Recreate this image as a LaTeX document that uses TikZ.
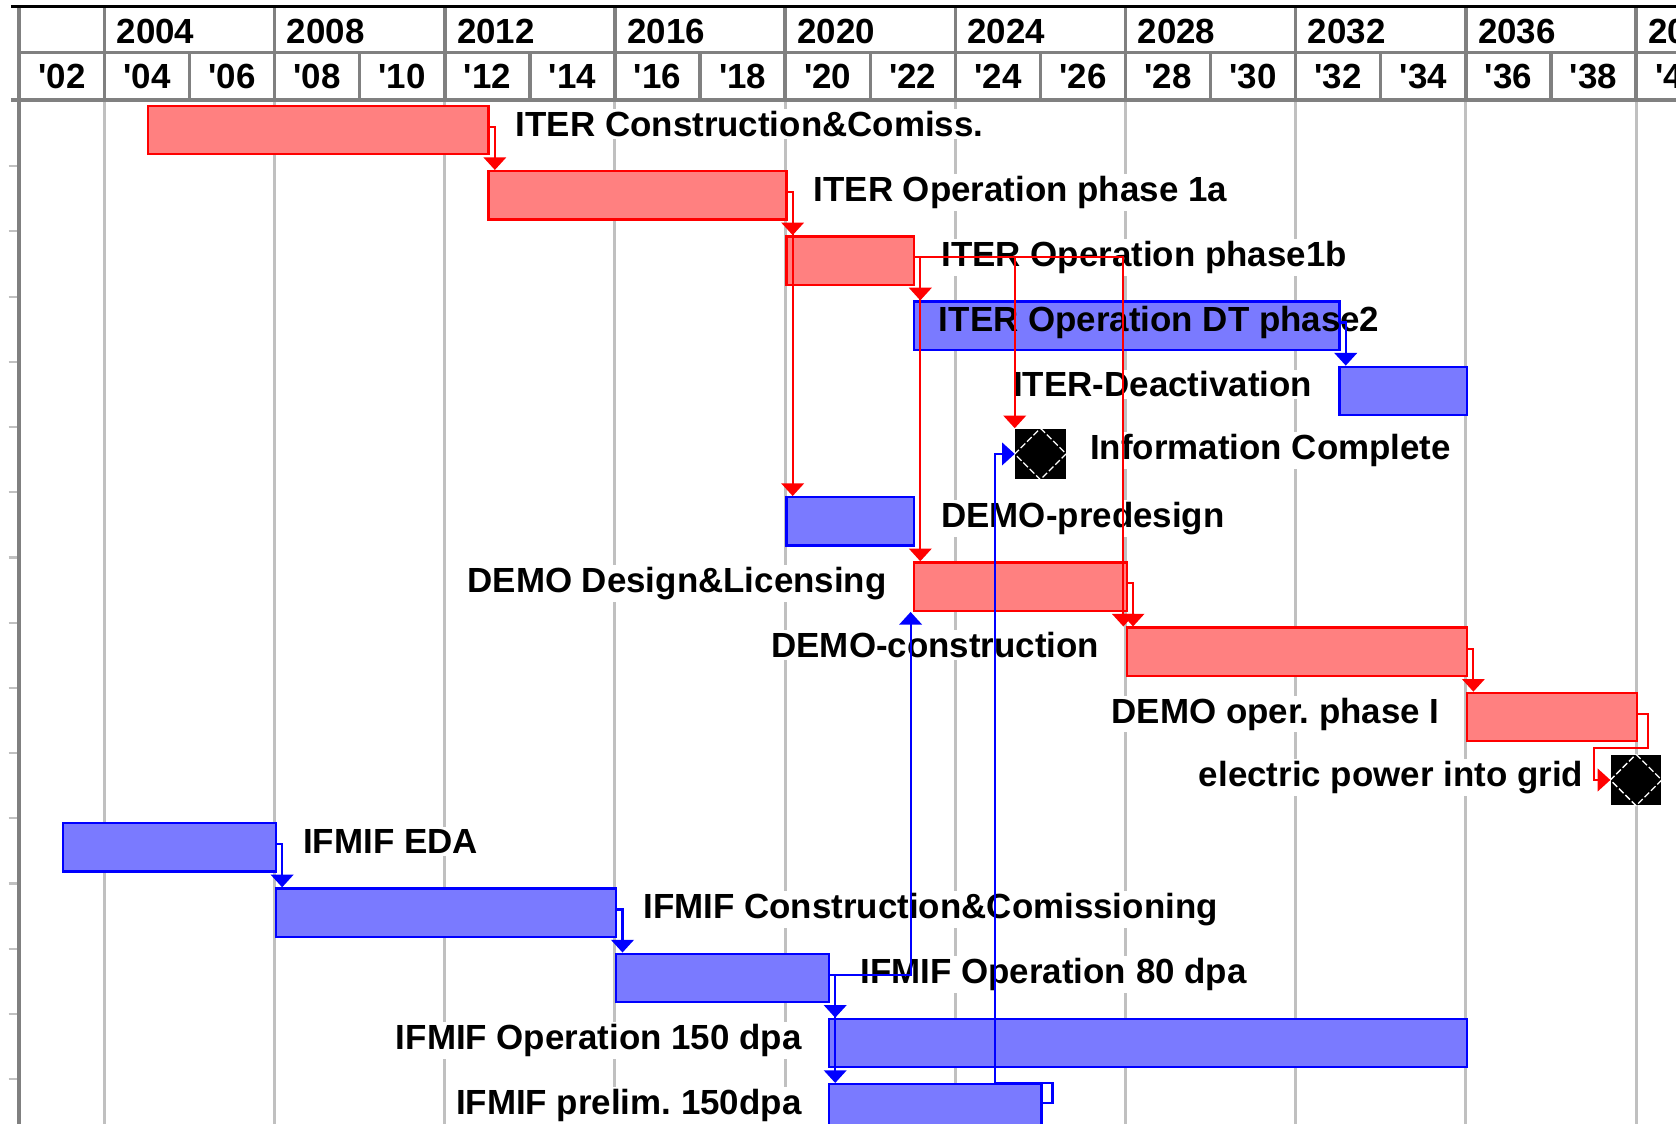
\documentclass[tikz,border=0pt]{standalone}
\usepackage{fontspec}
\newfontfamily\labfont{Liberation Sans}
\usetikzlibrary{arrows.meta}
\definecolor{rfill}{RGB}{255,128,128}
\definecolor{bfill}{RGB}{122,122,255}
\definecolor{hdrgray}{RGB}{128,128,128}
\definecolor{gridgray}{RGB}{192,192,192}
\frenchspacing
\begin{document}
\begin{tikzpicture}[x=19.8pt, y=-0.5pt,
  lab/.style={font=\labfont\bfseries\fontsize{16.25pt}{19pt}\selectfont, inner sep=1pt, fill=white},
  lablong/.style={font=\labfont\bfseries\fontsize{16.25pt}{19pt}\selectfont, inner sep=1pt},
  hdr/.style={font=\labfont\bfseries\fontsize{16.25pt}{19pt}\selectfont, inner sep=0pt},
  hdrline/.style={draw=hdrgray, line width=1.6pt},
  gridline/.style={draw=gridgray, line width=1.4pt},
  barbase/.style={line width=1.1pt, inner sep=0pt, minimum height=22.5pt, anchor=north west},
  redbar/.style={barbase, draw=red, fill=rfill},
  bluebar/.style={barbase, draw=blue, fill=bfill},
  yrs/.style={minimum width=#1*19.8pt},
  mile/.style={fill=black, minimum size=23.5pt, inner sep=0pt},
  milediamond/.style={draw=white, line width=0.6pt, dash pattern=on 3pt off 1.2pt},
  redc/.style={draw=red, line width=1pt, -{Triangle[width=10.5pt,length=5.9pt]}},
  bluec/.style={draw=blue, line width=1pt, -{Triangle[width=10.5pt,length=5.9pt]}}
]
\useasboundingbox (-9pt,0pt) rectangle (771pt,-522.65pt);
\clip (-9pt,0pt) rectangle (771pt,-522.65pt);

% body grid
\foreach \xx in {2,6,...,38} { \draw[gridline] (\xx,93) -- (\xx,1050); }
\foreach \k in {1,...,15} { \draw[gridgray, line width=1pt] (-0.25,{94+60.7*\k}) -- (0,{94+60.7*\k}); }

% header
\draw[hdrline] (0,49) -- (41,49);
\draw[hdrline] (-0.2,93) -- (41,93);
\foreach \xx in {2,6,...,38} { \draw[hdrline] (\xx,6) -- (\xx,49); }
\foreach \xx in {2,4,...,40} { \draw[hdrline] (\xx,49) -- (\xx,93); }
\draw[draw=hdrgray, line width=1.8pt] (0,6) -- (0,1050);
\draw[black, line width=1.8pt] (-0.2,6) -- (41,6);
\foreach \yr in {2004,2008,...,2040} {
  \pgfmathsetmacro\xx{\yr-2002}
  \node[hdr, anchor=base west] (h\yr) at ([xshift=5.5pt]\xx,40.5) {\yr};
}
\foreach \xx/\t in {1/02,3/04,5/06,7/08,9/10,11/12,13/14,15/16,17/18,19/20,21/22,23/24,25/26,27/28,29/30,31/32,33/34,35/36,37/38,39/40} {
  \node[hdr, anchor=base] (s\xx) at (\xx,82) {'\t};
}

% bars
\node[redbar, yrs=8] (b1) at (3,97.5) {};
\node[redbar, yrs=7] (b2) at (11,158.2) {};
\node[redbar, yrs=3] (b3) at (18,218.9) {};
\node[bluebar, yrs=10] (b4) at (21,279.6) {};
\node[bluebar, yrs=3] (b5) at (31,340.3) {};
\node[mile] (m1) at (24,422.5) {};
\draw[milediamond] (m1.north) -- (m1.east) -- (m1.south) -- (m1.west) -- cycle;
\node[bluebar, yrs=3] (b7) at (18,461.7) {};
\node[redbar, yrs=5] (b8) at (21,522.4) {};
\node[redbar, yrs=8] (b9) at (26,583.1) {};
\node[redbar, yrs=4] (b10) at (34,643.8) {};
\node[mile] (m2) at (38,726) {};
\draw[milediamond] (m2.north) -- (m2.east) -- (m2.south) -- (m2.west) -- cycle;
\node[bluebar, yrs=5] (b12) at (1,765.2) {};
\node[bluebar, yrs=8] (b13) at (6,825.9) {};
\node[bluebar, yrs=5] (b14) at (14,886.6) {};
\node[bluebar, yrs=15] (b15) at (19,947.3) {};
\node[bluebar, yrs=5] (b16) at (19,1008) {};

% labels
\node[lab, anchor=base west] (l1) at ([xshift=11pt,yshift=-2.8pt]b1.east) {ITER Construction\&Comiss.};
\node[lab, anchor=base west] (l2) at ([xshift=11pt,yshift=-2.8pt]b2.east) {ITER Operation phase 1a};
\node[lab, anchor=base west] (l3) at ([xshift=11pt,yshift=-2.8pt]b3.east) {ITER Operation phase1b};
\node[lablong, anchor=base west] (l4) at ([xshift=11pt,yshift=-2.8pt]b4.west) {ITER Operation DT phase2};
\node[lab, anchor=base east] (l5) at ([xshift=-11pt,yshift=-2.8pt]b5.west) {ITER-Deactivation};
\node[lab, anchor=base west] (l6) at ([xshift=10pt,yshift=-2.8pt]m1.east) {Information Complete};
\node[lab, anchor=base west] (l7) at ([xshift=11pt,yshift=-2.8pt]b7.east) {DEMO-predesign};
\node[lab, anchor=base east] (l8) at ([xshift=-11pt,yshift=-2.8pt]b8.west) {DEMO Design\&Licensing};
\node[lab, anchor=base east] (l9) at ([xshift=-11pt,yshift=-2.8pt]b9.west) {DEMO-construction};
\node[lab, anchor=base east] (l10) at ([xshift=-11pt,yshift=-2.8pt]b10.west) {DEMO oper. phase I};
\node[lab, anchor=base east] (l11) at ([xshift=-11.5pt,yshift=-2.8pt]m2.west) {electric power into grid};
\node[lab, anchor=base west] (l12) at ([xshift=11pt,yshift=-2.8pt]b12.east) {IFMIF EDA};
\node[lab, anchor=base west] (l13) at ([xshift=11pt,yshift=-2.8pt]b13.east) {IFMIF Construction\&Comissioning};
\node[lab, anchor=base west] (l14) at ([xshift=13pt,yshift=-2.8pt]b14.east) {IFMIF Operation 80 dpa};
\node[lab, anchor=base east] (l15) at ([xshift=-11pt,yshift=-2.8pt]b15.west) {IFMIF Operation 150 dpa};
\node[lab, anchor=base east] (l16) at ([xshift=-11pt,yshift=-2.8pt]b16.west) {IFMIF prelim. 150dpa};

% connectors (red)
\draw[redc] ([yshift=1.5pt]b1.east) -| ([xshift=3.5pt]b2.north west);
\draw[redc] ([yshift=1.5pt]b2.east) -| ([xshift=3.5pt]b3.north west);
\draw[redc] ([yshift=1.5pt]b2.east) -| ([xshift=3.5pt]b7.north west);
\draw[redc] ([yshift=1.5pt]b3.east) -| ([xshift=3.5pt]b4.north west);
\draw[redc] ([yshift=1.5pt]b3.east) -| ([xshift=3.5pt]b8.north west);
\draw[redc] ([yshift=1.5pt]b3.east) -| (m1.north west);
\draw[redc] ([yshift=1.5pt]b3.east) -| ([xshift=-1pt]b9.north west);
\draw[redc] ([yshift=1.5pt]b8.east) -| ([xshift=3.5pt]b9.north west);
\draw[redc] ([yshift=1.5pt]b9.east) -| ([xshift=3.5pt]b10.north west);
\coordinate (j2) at ([xshift=-7.5pt,yshift=3pt]m2.north west);
\draw[redc] ([yshift=1.5pt]b10.east) -- ++(4.5pt,0) |- (j2) |- (m2.west);

% connectors (blue)
\draw[bluec] ([yshift=1.5pt]b4.east) -| ([xshift=3.5pt]b5.north west);
\draw[bluec] ([yshift=1.5pt]b12.east) -| ([xshift=3.5pt]b13.north west);
\draw[bluec] ([yshift=1.5pt]b13.east) -| ([xshift=3.5pt]b14.north west);
\draw[bluec] ([yshift=1.5pt]b14.east) -| ([xshift=3.5pt]b15.north west);
\draw[bluec] ([yshift=1.5pt]b14.east) -| ([xshift=3.5pt]b16.north west);
\draw[bluec] ([yshift=1.5pt]b14.east) -| ([xshift=-1pt]b8.south west);
\coordinate (j1) at ([xshift=-9pt]m1.west);
\draw[bluec] ([yshift=2.5pt]b16.east) -- ++(4.5pt,0) |- (j1 |- b16.north) |- (m1.west);
\end{tikzpicture}
\end{document}
